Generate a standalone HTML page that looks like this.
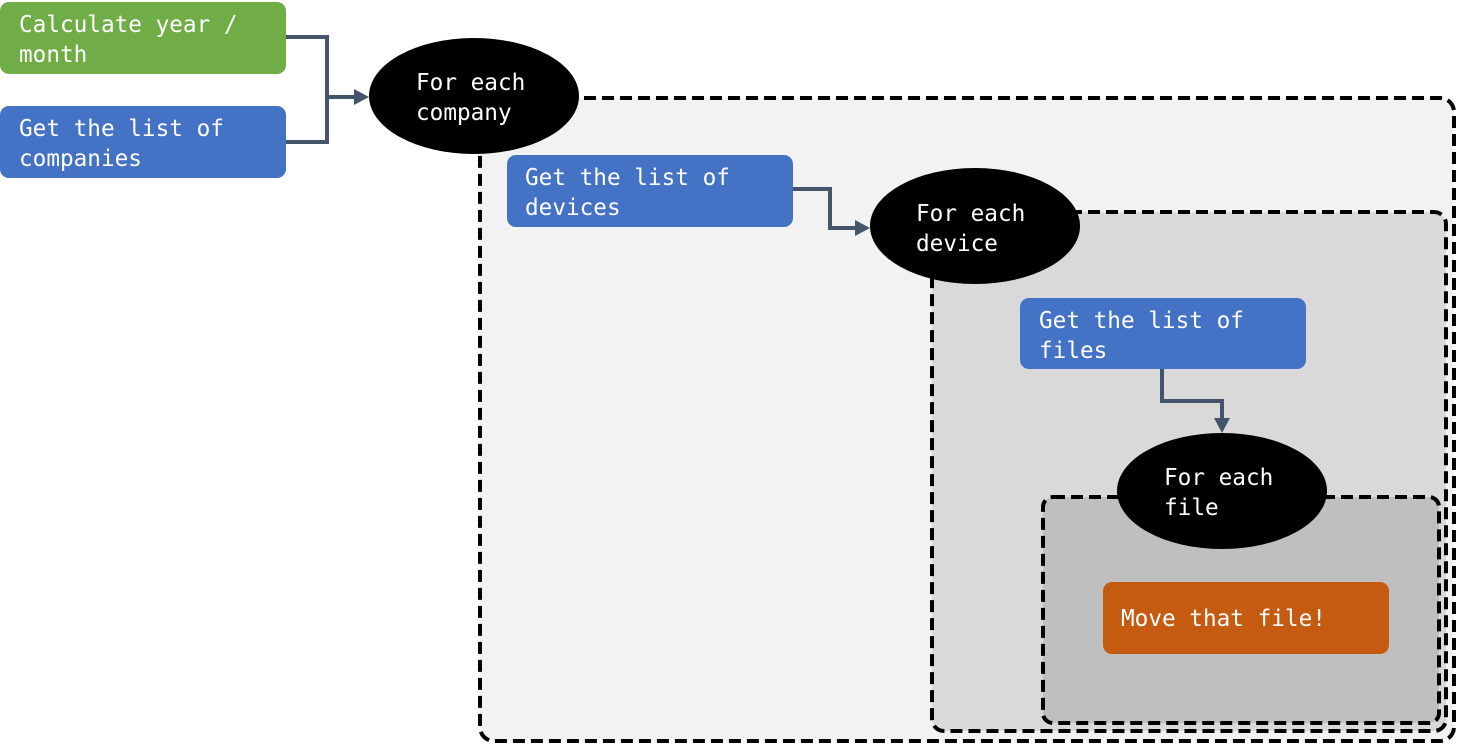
<!DOCTYPE html>
<html><head><meta charset="utf-8"><style>
html,body{margin:0;padding:0;background:#fff;}
text{font-family:"DejaVu Sans Mono","Liberation Mono",monospace;font-size:22.7px;fill:#fff;}
</style></head><body>
<svg width="1457" height="744" viewBox="0 0 1457 744" xmlns="http://www.w3.org/2000/svg">
<rect x="480" y="98" width="974" height="643" rx="14" fill="#F2F2F2" stroke="#000" stroke-width="4" stroke-dasharray="12,6"/>
<rect x="932" y="212" width="514" height="519" rx="12" fill="#D9D9D9" stroke="#000" stroke-width="4" stroke-dasharray="12,6"/>
<rect x="1043" y="497" width="396" height="226" rx="10" fill="#BFBFBF" stroke="#000" stroke-width="4" stroke-dasharray="12,6"/>

<rect x="0" y="2" width="286" height="72" rx="9" fill="#70AD47"/>
<text x="19" y="32">Calculate year /</text><text x="19" y="62">month</text>
<rect x="0" y="106" width="286" height="72" rx="9" fill="#4472C4"/>
<text x="19" y="136">Get the list of</text><text x="19" y="166">companies</text>
<path d="M286,37 H327 V142 H286" fill="none" stroke="#44546A" stroke-width="4"/>
<path d="M327,97 H356" fill="none" stroke="#44546A" stroke-width="4"/>
<path d="M354,89 L369,97 L354,105 Z" fill="#44546A"/>
<ellipse cx="474" cy="96" rx="105" ry="58" fill="#000"/>
<text x="416" y="90">For each</text><text x="416" y="120">company</text>

<rect x="507" y="155" width="286" height="72" rx="9" fill="#4472C4"/>
<text x="525" y="185">Get the list of</text><text x="525" y="215">devices</text>
<path d="M793,189 H830 V228 H857" fill="none" stroke="#44546A" stroke-width="4"/>
<path d="M855,220 L870,228 L855,236 Z" fill="#44546A"/>
<ellipse cx="975" cy="226" rx="105" ry="58" fill="#000"/>
<text x="916" y="221">For each</text><text x="916" y="251">device</text>

<rect x="1020" y="298" width="286" height="71" rx="9" fill="#4472C4"/>
<text x="1039" y="328">Get the list of</text><text x="1039" y="358">files</text>
<path d="M1162,369 V401 H1222 V420" fill="none" stroke="#44546A" stroke-width="4"/>
<path d="M1214,418 L1222,433 L1230,418 Z" fill="#44546A"/>
<ellipse cx="1222" cy="491" rx="105" ry="58" fill="#000"/>
<text x="1164" y="485">For each</text><text x="1164" y="515">file</text>

<rect x="1103" y="582" width="286" height="72" rx="9" fill="#C55A11"/>
<text x="1121" y="626">Move that file!</text>
</svg>
</body></html>
